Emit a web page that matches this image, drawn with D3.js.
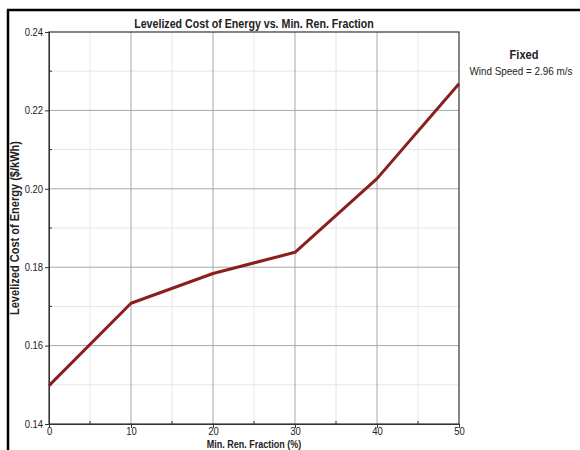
<!DOCTYPE html>
<html>
<head>
<meta charset="utf-8">
<script src="https://cdn.jsdelivr.net/npm/d3@7"></script>
<style>
  body { margin: 0; background: #fff; }
  text { font-family: "Liberation Sans", Arial, sans-serif; }
</style>
</head>
<body>
<div id="chart"></div>
<script>
// donnees
var renFraction = [0, 10, 20, 30, 40, 50];
var costOfEnergy = [0.1498, 0.1708, 0.1784, 0.1838, 0.2026, 0.2268];
var yTicks = [0.14, 0.16, 0.18, 0.20, 0.22, 0.24];
var xTicks = [0, 10, 20, 30, 40, 50];

var W = 580, H = 450;
var margin = {top: 32, right: 121, bottom: 26, left: 49};
var width = W - margin.left - margin.right;
var height = H - margin.top - margin.bottom;

var svg = d3.select("#chart").append("svg")
  .attr("width", W).attr("height", H);

// texte condense (police etroite)
function narrowText(parent, px, py, sx, rot) {
  return parent.append("text")
    .attr("transform", "translate(" + px + "," + py + ")" + (rot ? " rotate(" + rot + ")" : "") + " scale(" + sx + ",1)")
    .attr("fill", "#222");
}

// cadre exterieur
svg.append("line").attr("x1", 7).attr("x2", W).attr("y1", 10).attr("y2", 10)
  .attr("stroke", "#000").attr("stroke-width", 2.5);
svg.append("line").attr("x1", 8).attr("x2", 8).attr("y1", 10).attr("y2", H)
  .attr("stroke", "#000").attr("stroke-width", 2.5);

var g = svg.append("g").attr("transform", "translate(" + margin.left + "," + margin.top + ")");

var x = d3.scaleLinear().domain([0, 50]).range([0, width]);
var y = d3.scaleLinear().domain([0.14, 0.24]).range([height, 0]);

// grille mineure
var xMinor = d3.range(5, 50, 10);
var yMinor = d3.range(0.15, 0.24, 0.02);
g.selectAll(".xminor").data(xMinor).enter().append("line")
  .attr("x1", function(d) { return x(d); }).attr("x2", function(d) { return x(d); })
  .attr("y1", 0).attr("y2", height).attr("stroke", "#e6e6e6");
g.selectAll(".yminor").data(yMinor).enter().append("line")
  .attr("y1", function(d) { return y(d); }).attr("y2", function(d) { return y(d); })
  .attr("x1", 0).attr("x2", width).attr("stroke", "#e6e6e6");

// grille majeure
g.selectAll(".xmajor").data(xTicks.slice(1, -1)).enter().append("line")
  .attr("x1", function(d) { return x(d); }).attr("x2", function(d) { return x(d); })
  .attr("y1", 0).attr("y2", height).attr("stroke", "#a8a8a8");
g.selectAll(".ymajor").data(yTicks.slice(1, -1)).enter().append("line")
  .attr("y1", function(d) { return y(d); }).attr("y2", function(d) { return y(d); })
  .attr("x1", 0).attr("x2", width).attr("stroke", "#a8a8a8");

// cadre du graphe
g.append("rect").attr("width", width).attr("height", height)
  .attr("fill", "none").attr("stroke", "#333").attr("stroke-width", 1.2);

// axes
var xAxis = d3.axisBottom(x).tickValues(xTicks).tickFormat(d3.format("d")).tickSize(4).tickPadding(0);
var yAxis = d3.axisLeft(y).tickValues(yTicks).tickFormat(d3.format(".2f")).tickSize(4).tickPadding(2);

var gx = g.append("g").attr("transform", "translate(0," + height + ")").call(xAxis);
var gy = g.append("g").call(yAxis);
[gx, gy].forEach(function(a) {
  a.select(".domain").attr("stroke", "#333");
  a.selectAll(".tick line").attr("stroke", "#333");
  a.selectAll("text").attr("font-size", 10.5).attr("fill", "#222")
    .style("font-family", "'Liberation Sans', Arial, sans-serif");
});
// resserrer les etiquettes
gx.selectAll(".tick text").attr("transform", "scale(0.9,1)").attr("x", 0);
gy.selectAll(".tick text").attr("transform", "translate(-6,0) scale(0.9,1)").attr("x", 0);

// ticks mineurs vers l'interieur
g.selectAll(".xmt").data(xMinor).enter().append("line")
  .attr("x1", function(d) { return x(d); }).attr("x2", function(d) { return x(d); })
  .attr("y1", height).attr("y2", height - 3).attr("stroke", "#333");
g.selectAll(".ymt").data(yMinor).enter().append("line")
  .attr("y1", function(d) { return y(d); }).attr("y2", function(d) { return y(d); })
  .attr("x1", 0).attr("x2", 3).attr("stroke", "#333");

// courbe
var line = d3.line()
  .x(function(d, i) { return x(renFraction[i]); })
  .y(function(d) { return y(d); });
g.append("path").datum(costOfEnergy)
  .attr("d", line).attr("fill", "none")
  .attr("stroke", "#8b1f1f").attr("stroke-width", 3).attr("stroke-linejoin", "round");

// titres
narrowText(svg, margin.left + width / 2, 28, 0.82)
  .attr("text-anchor", "middle").attr("font-size", 13).attr("font-weight", "bold")
  .text("Levelized Cost of Energy vs. Min. Ren. Fraction");
narrowText(svg, margin.left + width / 2, 447.7, 0.9)
  .attr("text-anchor", "middle").attr("font-size", 10).attr("font-weight", "bold")
  .text("Min. Ren. Fraction (%)");
narrowText(svg, 19, margin.top + height / 2, 0.92, -90)
  .attr("text-anchor", "middle").attr("font-size", 12).attr("font-weight", "bold")
  .text("Levelized Cost of Energy ($/kWh)");

// legende
narrowText(svg, 524, 59, 0.85)
  .attr("text-anchor", "middle").attr("font-size", 13).attr("font-weight", "bold")
  .text("Fixed");
narrowText(svg, 521, 75, 0.9)
  .attr("text-anchor", "middle").attr("font-size", 11)
  .text("Wind Speed = 2.96 m/s");
</script>
</body>
</html>
